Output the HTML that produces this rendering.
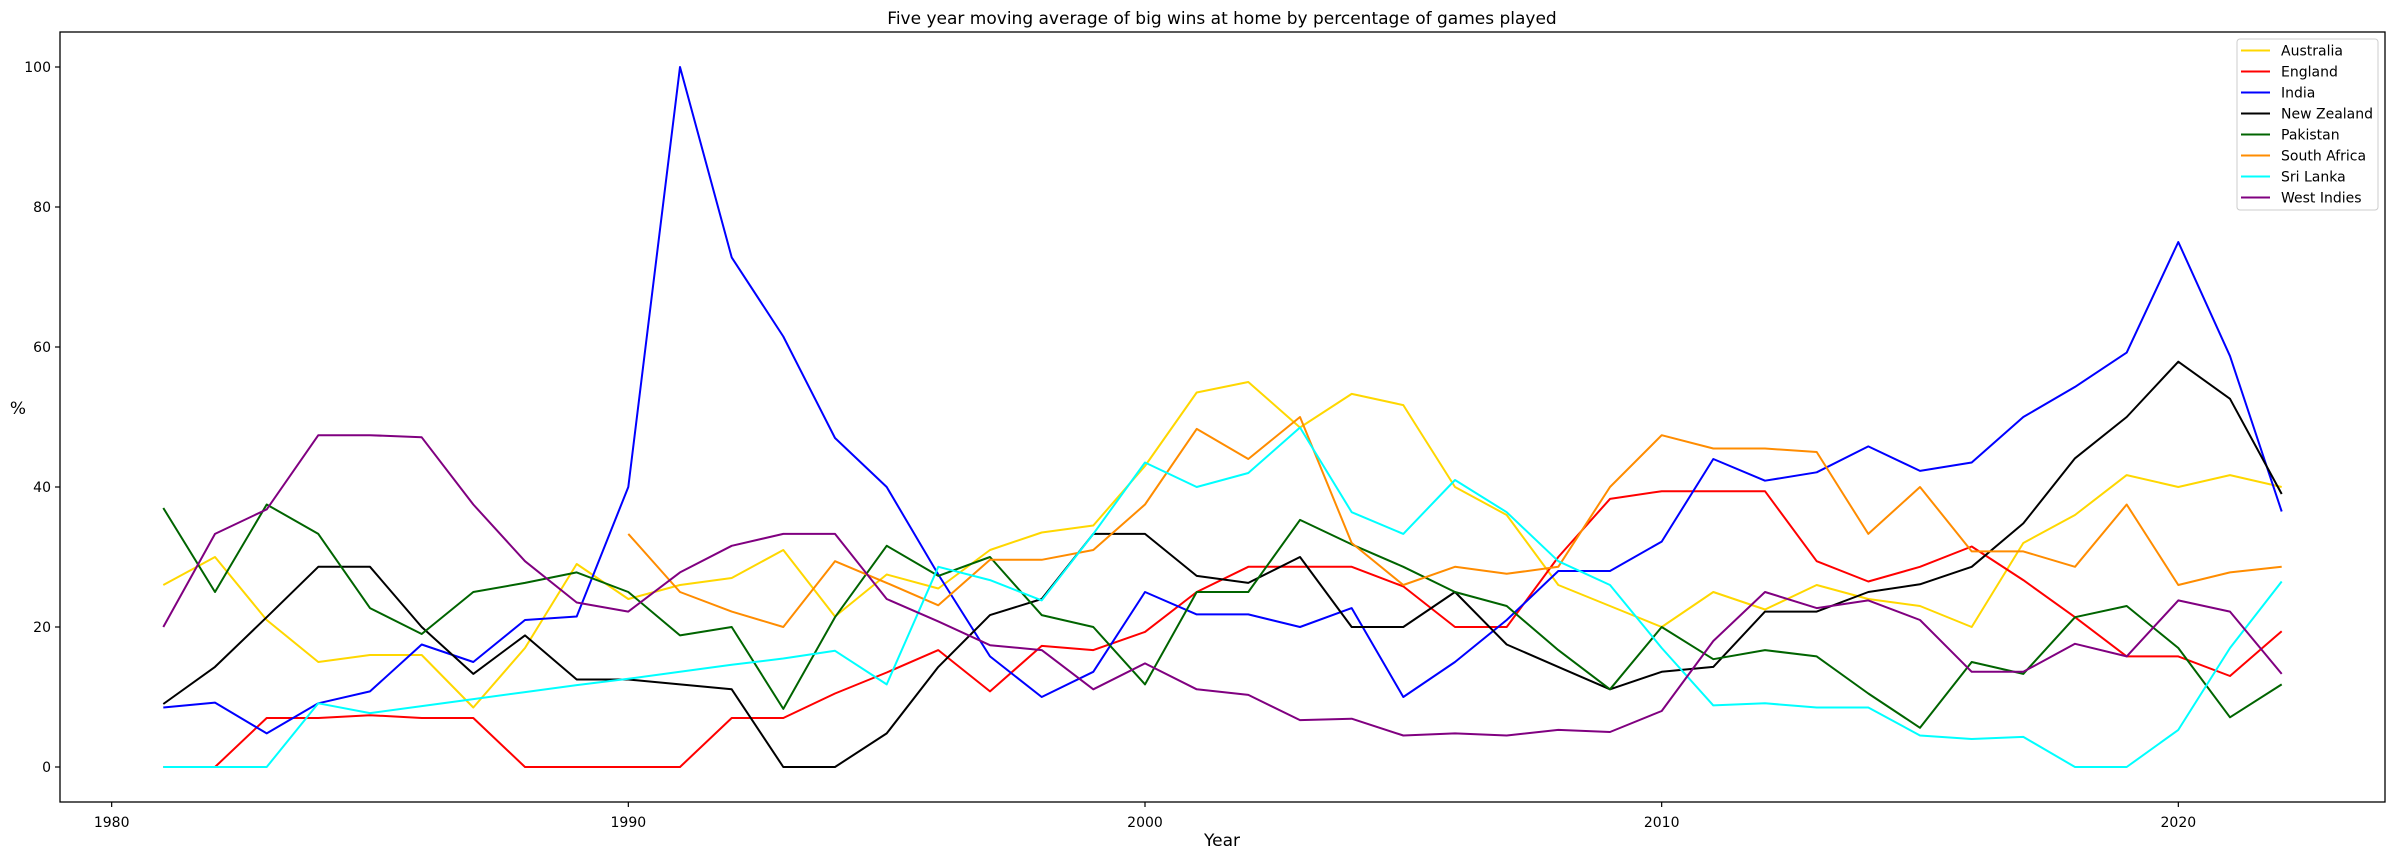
<!DOCTYPE html>
<html><head><meta charset="utf-8"><style>
body{margin:0;background:#fff}
svg{display:block;font-family:"DejaVu Sans","Liberation Sans",sans-serif}
</style></head><body>
<svg id="chart" width="2394" height="859" viewBox="0 0 2394 859">
<rect x="0" y="0" width="2394" height="859" fill="#fff"/>
<text x="1222" y="24" font-size="17" text-anchor="middle">Five year moving average of big wins at home by percentage of games played</text>
<g id="plot"></g>
<rect x="60" y="32" width="2325" height="770" fill="none" stroke="#000" stroke-width="1.3"/>
<text x="1222" y="846" font-size="17" text-anchor="middle">Year</text>
<text x="18" y="414" font-size="17" text-anchor="middle">%</text>
<g id="legend"></g>
</svg>
<script>
const years = Array.from({length:42},(_,i)=>1981+i);
const australia = [26,30,21,15,16,16,8.5,17,29,24,26,27,31,21.5,27.5,25.5,31,33.5,34.5,43,53.5,55,48.5,53.3,51.7,40,36,26,23,20,25,22.5,26,24,23,20,32,36,41.7,40,41.7,40];
const england = [0,0,7,7,7.4,7,7,0,0,0,0,7,7,10.5,13.5,16.7,10.8,17.3,16.7,19.3,25,28.6,28.6,28.6,25.8,20,20,30,38.3,39.4,39.4,39.4,29.4,26.5,28.6,31.5,26.7,21.4,15.8,15.8,13,19.4];
const india = [8.5,9.2,4.8,9.1,10.8,17.5,15,21,21.5,40,100,72.8,61.5,47,40,27.5,15.8,10,13.6,25,21.8,21.8,20,22.7,10,15,21,28,28,32.2,44,40.9,42.1,45.8,42.3,43.5,50,54.3,59.2,75,58.7,36.5];
const newZealand = [9,14.3,21.4,28.6,28.6,20,13.3,18.8,12.5,12.5,11.8,11.1,0,0,4.8,14.3,21.7,24,33.3,33.3,27.3,26.3,30,20,20,25,17.5,14.3,11.1,13.6,14.3,22.2,22.2,25,26.1,28.6,34.8,44.1,50,57.9,52.6,39];
const pakistan = [37,25,37.5,33.3,22.7,19,25,26.3,27.8,25,18.8,20,8.3,21.4,31.6,27.3,30,21.7,20,11.8,25,25,35.3,31.8,28.6,25,23,16.7,11.1,20,15.4,16.7,15.8,10.5,5.6,15,13.3,21.4,23,17,7.1,11.8];
const southAfrica = [null,null,null,null,null,null,null,null,null,33.3,25,22.2,20,29.4,26.3,23.1,29.6,29.6,31,37.5,48.3,44,50,32,26,28.6,27.6,28.6,40,47.4,45.5,45.5,45,33.3,40,30.8,30.8,28.6,37.5,26,27.8,28.6];
const sriLanka = [0,0,0,9.1,7.7,8.7,9.7,10.7,11.7,12.6,13.6,14.6,15.5,16.6,11.8,28.6,26.7,23.8,33.3,43.5,40,42,48.5,36.4,33.3,41,36.4,29.4,26,17,8.8,9.1,8.5,8.5,4.5,4,4.3,0,0,5.3,17,26.5];
const westIndies = [20,33.3,36.8,47.4,47.4,47.1,37.5,29.4,23.5,22.2,27.8,31.6,33.3,33.3,24,20.8,17.4,16.7,11.1,14.8,11.1,10.3,6.7,6.9,4.5,4.8,4.5,5.3,5,8,18,25,22.7,23.8,21,13.6,13.6,17.6,15.8,23.8,22.2,13.3];
const seriesNames = ["Australia","England","India","New Zealand","Pakistan","South Africa","Sri Lanka","West Indies"];
const seriesValues = [australia,england,india,newZealand,pakistan,southAfrica,sriLanka,westIndies];
const seriesColors = ["#ffd700","#ff0000","#0000ff","#000000","#006400","#ff8c00","#00ffff","#800080"];
const xTicks = [1980,1990,2000,2010,2020];
const yTicks = [0,20,40,60,80,100];

const NS="http://www.w3.org/2000/svg";
const L=60,R=2385,T=32,B=802;
const x=v=>L+(v-1979)/(2024-1979)*(R-L);
const y=v=>B-(v+5)/110*(B-T);
const plot=document.getElementById('plot');
function mk(tag,attrs,parent){const e=document.createElementNS(NS,tag);for(const k in attrs)e.setAttribute(k,attrs[k]);parent.appendChild(e);return e;}

xTicks.forEach(t=>{
  const g=mk('g',{},plot);
  
  
  mk('line',{x1:x(t),x2:x(t),y1:B,y2:B+5,stroke:'#000','stroke-width':1.2},g);
  const tx=mk('text',{x:x(t),y:B+25,'font-size':14,'text-anchor':'middle'},g);tx.textContent=t;
});
yTicks.forEach(t=>{
  const g=mk('g',{},plot);
  
  
  mk('line',{x1:L-5,x2:L,y1:y(t),y2:y(t),stroke:'#000','stroke-width':1.2},g);
  const tx=mk('text',{x:L-9,y:y(t)+5,'font-size':14,'text-anchor':'end'},g);tx.textContent=t;
});
seriesValues.forEach((vals,si)=>{
  let d='';let pen=false;
  vals.forEach((v,i)=>{
    if(v===null){pen=false;return;}
    d+=(pen?'L':'M')+x(years[i]).toFixed(1)+' '+y(v).toFixed(1)+' ';pen=true;
  });
  const p=mk('path',{d:d,fill:'none',stroke:seriesColors[si],'stroke-width':2,'stroke-linejoin':'round'},plot);
  
  
});
const lg=document.getElementById('legend');


mk('rect',{x:2237,y:39,width:141,height:171,rx:3,fill:'#fff','fill-opacity':0.8,stroke:'#ccc','stroke-width':1},lg);
seriesNames.forEach((n,i)=>{
  const g=mk('g',{},lg);
  
  
  const cy=50.5+i*21;
  mk('line',{x1:2241,x2:2270,y1:cy,y2:cy,stroke:seriesColors[i],'stroke-width':2},g);
  const t=mk('text',{x:2281,y:cy+5,'font-size':14},g);t.textContent=n;
});
</script>
</body></html>
